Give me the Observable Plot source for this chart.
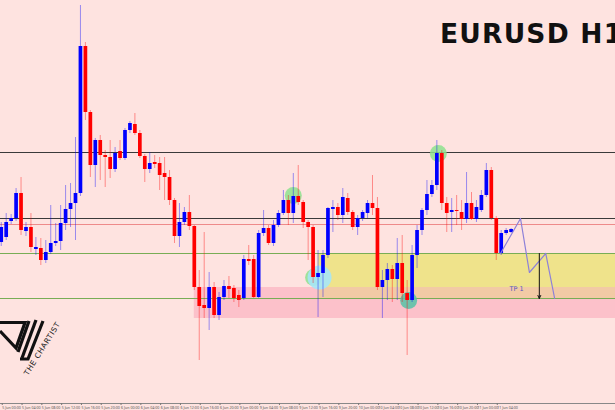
<!DOCTYPE html>
<html><head><meta charset="utf-8">
<script src="https://cdn.jsdelivr.net/npm/d3@7"></script>
<script src="https://cdn.jsdelivr.net/npm/@observablehq/plot@0.6"></script>
<style>
html,body{margin:0;padding:0;background:#fee3e0;}
#wrap{position:relative;width:615px;height:410px;overflow:hidden;}
#overlay{position:absolute;left:0;top:0;pointer-events:none;}
</style></head><body>
<div id="wrap"><div id="chart"></div>
<svg id="overlay" width="615" height="410" xmlns="http://www.w3.org/2000/svg">
  <text x="440" y="43" font-family="DejaVu Sans" font-weight="bold" font-size="26.5" letter-spacing="1.2" fill="#111">EURUSD H1</text>
  <g fill="none" stroke="#111" stroke-width="3.2" stroke-linejoin="miter">
    <path d="M0,322.5 L25,322.5 L16,348 L0,331"/>
    <path d="M29,321 L18,352"/>
    <path d="M36,320 L22,358"/>
    <path d="M43,321 L28,359 L20,359"/>
  </g>
  <text transform="translate(28,376) rotate(-58)" font-family="DejaVu Sans" font-size="7.5" letter-spacing="0.6" fill="#222">THE CHARTIST</text>
</svg></div>
<script>
// EURUSD H1 candles, index 0 = 5 Jun 00:00
const opens = [1.14032,1.14052,1.14116,1.14128,1.14228,1.14076,1.14092,1.14004,1.14008,1.13960,
1.13992,1.14028,1.14036,1.14108,1.14164,1.14188,1.14228,1.14816,1.14552,1.14340,
1.14440,1.14380,1.14372,1.14324,1.14396,1.14368,1.14480,1.14504,1.14468,1.14376,
1.14324,1.14352,1.14348,1.14308,1.14292,1.14200,1.14056,1.14112,1.14152,1.14096,
1.13852,1.13780,1.13768,1.13852,1.13740,1.13812,1.13856,1.13848,1.13820,1.13808,
1.13964,1.13964,1.13812,1.14068,1.14088,1.14028,1.14100,1.14148,1.14200,1.14148,
1.14216,1.14192,1.14112,1.14092,1.13892,1.13908,1.13980,1.14164,1.14172,1.14140,
1.14208,1.14152,1.14092,1.14128,1.14148,1.14188,1.14168,1.13852,1.13880,1.13924,
1.13884,1.13948,1.13828,1.13800,1.13980,1.14080,1.14160,1.14224,1.14260,1.14388,
1.14188,1.14152,1.14160,1.14152,1.14124,1.14188,1.14124,1.14160,1.14220,1.14320,
1.14128,1.13988,1.14068,1.14072];
const highs = [1.14112,1.14148,1.14144,1.14248,1.14292,1.14112,1.14148,1.14052,1.14048,1.14040,
1.14180,1.14108,1.14180,1.14260,1.14268,1.14452,1.14980,1.14832,1.14560,1.14448,
1.14460,1.14400,1.14440,1.14412,1.14440,1.14488,1.14516,1.14548,1.14480,1.14384,
1.14392,1.14380,1.14372,1.14372,1.14320,1.14208,1.14188,1.14172,1.14220,1.14100,
1.13920,1.14072,1.13912,1.13872,1.13832,1.13880,1.13896,1.13860,1.13840,1.13980,
1.14020,1.13980,1.14080,1.14160,1.14100,1.14120,1.14160,1.14240,1.14220,1.14308,
1.14340,1.14200,1.14120,1.14100,1.14000,1.14000,1.14172,1.14200,1.14188,1.14248,
1.14228,1.14160,1.14140,1.14160,1.14200,1.14300,1.14212,1.13920,1.13948,1.13940,
1.14048,1.14060,1.13880,1.14020,1.14100,1.14168,1.14280,1.14280,1.14440,1.14400,
1.14212,1.14208,1.14220,1.14200,1.14312,1.14232,1.14200,1.14240,1.14348,1.14332,
1.14136,1.14080,1.14088,1.14088];
const lows = [1.14016,1.14040,1.14104,1.14116,1.14060,1.14056,1.13992,1.13980,1.13940,1.13948,
1.13984,1.14016,1.14000,1.14080,1.14092,1.14040,1.14216,1.14520,1.14292,1.14252,
1.14280,1.14252,1.14288,1.14312,1.14360,1.14360,1.14468,1.14460,1.14368,1.14272,
1.14308,1.14328,1.14240,1.14200,1.14180,1.14028,1.14012,1.14100,1.14080,1.13840,
1.13560,1.13728,1.13680,1.13728,1.13720,1.13800,1.13808,1.13792,1.13772,1.13800,
1.13940,1.13808,1.13808,1.14056,1.14020,1.14016,1.14092,1.14140,1.14100,1.14108,
1.14180,1.14088,1.13960,1.13868,1.13732,1.13812,1.13968,1.14072,1.14120,1.14108,
1.14140,1.14080,1.14060,1.14116,1.14128,1.14140,1.13840,1.13728,1.13800,1.13792,
1.13800,1.13792,1.13580,1.13792,1.13928,1.14060,1.14140,1.14212,1.14240,1.14160,
1.14072,1.14072,1.14100,1.14080,1.14108,1.14120,1.14112,1.14152,1.14212,1.14120,
1.13960,1.13980,1.14060,1.14068];
const closes = [1.14092,1.14112,1.14128,1.14228,1.14080,1.14092,1.14012,1.14012,1.13960,1.13992,
1.14028,1.14036,1.14108,1.14164,1.14188,1.14228,1.14816,1.14552,1.14340,1.14440,
1.14380,1.14372,1.14324,1.14388,1.14368,1.14480,1.14508,1.14468,1.14376,1.14324,
1.14348,1.14344,1.14300,1.14292,1.14200,1.14056,1.14112,1.14152,1.14096,1.13852,
1.13776,1.13768,1.13852,1.13740,1.13812,1.13856,1.13844,1.13808,1.13800,1.13964,
1.13956,1.13812,1.14068,1.14088,1.14028,1.14100,1.14148,1.14200,1.14148,1.14216,
1.14192,1.14112,1.14092,1.13892,1.13908,1.13980,1.14168,1.14172,1.14140,1.14212,
1.14152,1.14092,1.14128,1.14152,1.14188,1.14168,1.13852,1.13880,1.13924,1.13884,
1.13948,1.13828,1.13800,1.13980,1.14080,1.14160,1.14224,1.14260,1.14388,1.14188,
1.14148,1.14160,1.14156,1.14124,1.14188,1.14124,1.14172,1.14220,1.14320,1.14128,
1.13988,1.14068,1.14080,1.14084];

const tickLabels = ["5 Jun 00:00","5 Jun 04:00","5 Jun 08:00","5 Jun 12:00","5 Jun 16:00","5 Jun 20:00",
"6 Jun 00:00","6 Jun 04:00","6 Jun 08:00","6 Jun 12:00","6 Jun 16:00","6 Jun 20:00",
"9 Jun 00:00","9 Jun 04:00","9 Jun 08:00","9 Jun 12:00","9 Jun 16:00","9 Jun 20:00",
"10 Jun 00:00","10 Jun 04:00","10 Jun 08:00","10 Jun 12:00","10 Jun 16:00","10 Jun 20:00",
"11 Jun 00:00","11 Jun 04:00"];
const tickEvery = 4;

// horizontal levels
const blackLevels = [1.14392, 1.14128];
const redLevels = [1.14104];
const greenLevels = [1.13988, 1.13808];

// zones: start candle index, low, high
const pinkZone = {start: 39, low: 1.13728, high: 1.13852};
const yellowZone = {start: 64, low: 1.13808, high: 1.13988};

// marked swing points
const greenMarks = [{i: 59, p: 1.14220}, {i: 88.3, p: 1.14388}, {i: 63.1, p: 1.13892}];
const blueMarks = [{i: 64.3, p: 1.13892}];
const tealMarks = [{i: 82.3, p: 1.13800}];

// projected path
const pathIdx = [100.86, 104.9, 106.7, 110.0, 111.8];
const pathPrice = [1.13988, 1.14128, 1.13912, 1.13988, 1.13808];
const tpIdx = 108.7, tpFrom = 1.13988, tpTo = 1.13808;
const tpLabel = {i: 104.1, p: 1.13848, text: "TP 1"};

const xDomain = [-0.15, 124.09];
const yDomain = [1.13388, 1.15];

const candles = opens.map((o, i) => ({i, open: o, high: highs[i], low: lows[i], close: closes[i], up: closes[i] >= o}));
const path = pathIdx.map((x, k) => ({x, y: pathPrice[k]}));
const tickIdx = tickLabels.map((_, k) => k * tickEvery);
const xEnd = xDomain[1];

const chart = Plot.plot({
  width: 615, height: 410,
  marginTop: 0, marginRight: 0, marginLeft: 0, marginBottom: 7,
  style: {background: "#fee3e0", overflow: "hidden"},
  x: {domain: xDomain, axis: null},
  y: {domain: yDomain, axis: null},
  marks: [
    Plot.rect([pinkZone], {x1: d => d.start, x2: xEnd, y1: "low", y2: "high", fill: "#fcc1ca"}),
    Plot.rect([yellowZone], {x1: d => d.start, x2: xEnd, y1: "low", y2: "high", fill: "#efe38b"}),
    Plot.rect([yellowZone], {x1: d => d.start, x2: xEnd, y1: "low", y2: pinkZone.high, fill: "#f2caa5"}),
    Plot.ruleY(blackLevels, {stroke: "#3a3a3a", strokeWidth: 1}),
    Plot.ruleY(redLevels, {stroke: "#ee8a8a", strokeWidth: 1}),
    Plot.ruleY(greenLevels, {stroke: "#78ad55", strokeWidth: 1.2}),
    Plot.dot(greenMarks, {x: "i", y: "p", r: 8.5, fill: "#8ee28e", fillOpacity: 0.85, stroke: "none"}),
    Plot.dot(blueMarks, {x: "i", y: "p", r: 12, fill: "#a6e6f6", fillOpacity: 0.9, stroke: "none"}),
    Plot.dot(tealMarks, {x: "i", y: "p", r: 8.5, fill: "#5fc2a8", fillOpacity: 0.9, stroke: "none"}),
    Plot.ruleX(candles, {x: "i", y1: "low", y2: "high", stroke: d => d.up ? "#0000ff" : "#ff0000", strokeOpacity: 0.4, strokeWidth: 1}),
    Plot.ruleX(candles, {x: "i", y1: "open", y2: "close", stroke: d => d.up ? "#0000ff" : "#ff0000", strokeWidth: 3.7}),
    Plot.line(path, {x: "x", y: "y", stroke: "#8d80d8", strokeWidth: 1.2}),
    Plot.arrow([{x: tpIdx, y1: tpFrom, y2: tpTo}], {x1: "x", x2: "x", y1: "y1", y2: "y2", stroke: "#111", strokeWidth: 1, headLength: 5, headAngle: 50}),
    Plot.text([tpLabel], {x: "i", y: "p", text: "text", fill: "#5553c4", fontSize: 6.5, fontFamily: "DejaVu Sans"}),
    Plot.ruleY([yDomain[0]], {stroke: "#888", strokeWidth: 1}),
    Plot.axisX({ticks: tickIdx, tickFormat: d => tickLabels[Math.round(d / tickEvery)], tickSize: 2, tickPadding: 0.5, fontSize: 3.6, textAnchor: "start", dx: 1, stroke: "#777", fill: "#555"})
  ]
});
document.getElementById("chart").appendChild(chart);
</script>
</body></html>
